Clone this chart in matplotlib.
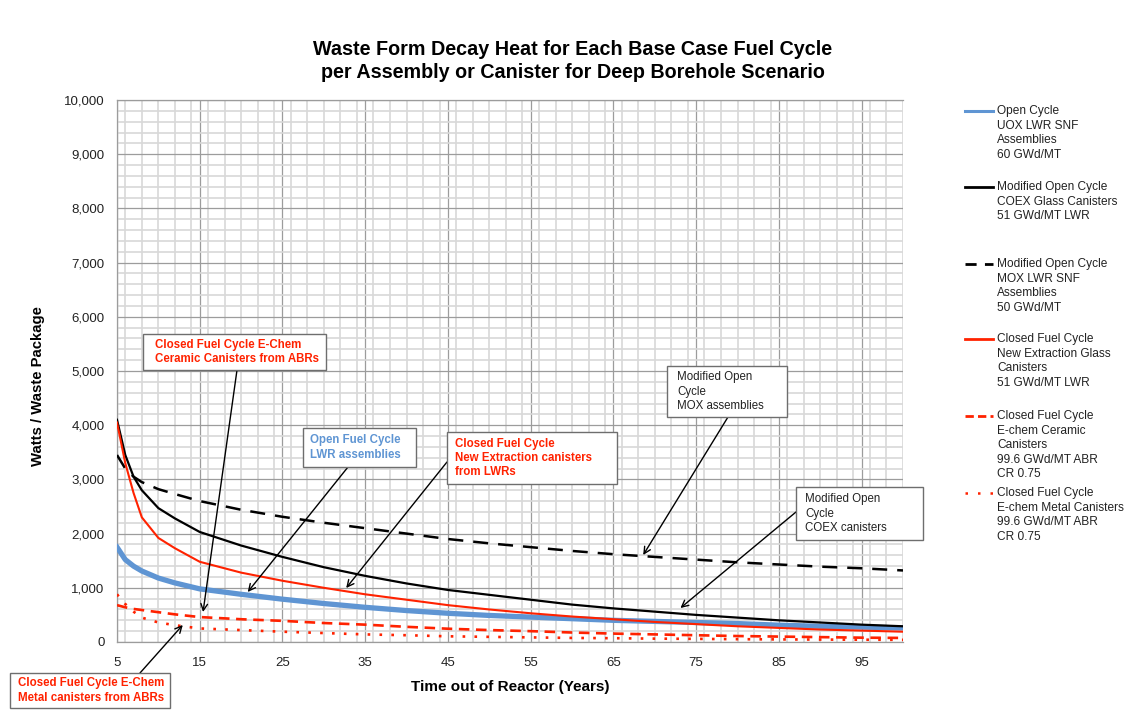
import numpy as np
import matplotlib
matplotlib.use("Agg")
import matplotlib.pyplot as plt
from matplotlib.lines import Line2D
from matplotlib.patches import Rectangle
from matplotlib.ticker import MultipleLocator, FuncFormatter

plt.rcParams['font.family'] = ['Liberation Sans', 'DejaVu Sans']

# years out of reactor
years = [5, 6, 7, 8, 10, 12, 15, 20, 25, 30, 35, 40, 45, 50, 55, 60, 65, 70,
         75, 80, 85, 90, 95, 100]

# watts per waste package
uox_lwr = [1750, 1520, 1400, 1310, 1180, 1090, 980, 880, 790, 710, 640, 580,
           530, 490, 460, 430, 400, 380, 360, 340, 310, 290, 275, 260]
coex_glass = [4100, 3450, 3050, 2800, 2470, 2280, 2030, 1780, 1570, 1380, 1220,
              1080, 960, 870, 780, 690, 620, 560, 500, 450, 400, 360, 320, 290]
mox_lwr = [3450, 3200, 3050, 2950, 2820, 2730, 2600, 2440, 2310, 2200, 2100,
           2000, 1900, 1820, 1750, 1680, 1620, 1570, 1520, 1470, 1430, 1390,
           1360, 1320]
new_extraction = [4050, 3300, 2750, 2300, 1920, 1730, 1480, 1280, 1130, 1000,
                  880, 780, 680, 600, 530, 470, 420, 370, 330, 290, 260, 230,
                  210, 190]
echem_ceramic = [680, 640, 610, 590, 550, 510, 460, 420, 390, 350, 320, 280,
                 245, 220, 200, 175, 155, 140, 125, 110, 100, 90, 80, 75]
echem_metal = [880, 700, 560, 450, 360, 310, 250, 220, 190, 165, 140, 125,
               105, 95, 85, 75, 70, 62, 58, 52, 48, 45, 42, 40]

legend_labels = [
    ["Open Cycle", "UOX LWR SNF", "Assemblies", "60 GWd/MT"],
    ["Modified Open Cycle", "COEX Glass Canisters", "51 GWd/MT LWR"],
    ["Modified Open Cycle", "MOX LWR SNF", "Assemblies", "50 GWd/MT"],
    ["Closed Fuel Cycle", "New Extraction Glass", "Canisters", "51 GWd/MT LWR"],
    ["Closed Fuel Cycle", "E-chem Ceramic", "Canisters", "99.6 GWd/MT ABR",
     "CR 0.75"],
    ["Closed Fuel Cycle", "E-chem Metal Canisters", "99.6 GWd/MT ABR",
     "CR 0.75"],
]

BLUE = '#5f95d3'
RED = '#ff2200'
W, H = 1135, 710

fig = plt.figure(figsize=(W / 100, H / 100), dpi=100)
ax = fig.add_axes([117 / W, 1 - 642 / H, (903 - 117) / W, (642 - 100) / H])


def fx(px):
    return px / W


def fy(py):
    return 1 - py / H


styles = [
    dict(color=BLUE, lw=3.8, ls='-'),
    dict(color='black', lw=1.6, ls='-'),
    dict(color='black', lw=1.8, ls=(0, (6, 4))),
    dict(color=RED, lw=1.5, ls='-'),
    dict(color=RED, lw=1.9, ls=(0, (4, 2.5))),
    dict(color=RED, lw=1.9, ls=(0, (1, 3.5))),
]
series = [uox_lwr, coex_glass, mox_lwr, new_extraction, echem_ceramic,
          echem_metal]
for vals, st in zip(series, styles):
    ax.plot(years, vals, zorder=3, **st)

ax.set_xlim(5, 100)
ax.set_ylim(0, 10000)
ax.set_xticks(np.arange(5, 100, 10))
ax.xaxis.set_minor_locator(MultipleLocator(2))
ax.yaxis.set_major_locator(MultipleLocator(1000))
ax.yaxis.set_minor_locator(MultipleLocator(200))
ax.yaxis.set_major_formatter(FuncFormatter(lambda v, p: f"{int(v):,}"))
ax.grid(which='minor', color='#d8d8d8', lw=1.2)
ax.grid(which='major', color='#9c9c9c', lw=0.9)
ax.set_axisbelow(True)
ax.tick_params(which='both', length=0, labelsize=9.5, colors='#222222')
ax.tick_params(axis='x', pad=11)
ax.tick_params(axis='y', pad=9)
for s in ['left', 'top', 'bottom']:
    ax.spines[s].set_color('#9c9c9c')
    ax.spines[s].set_linewidth(0.9)
ax.spines['right'].set_visible(False)

ax.set_xlabel("Time out of Reactor (Years)", fontsize=11, fontweight='bold',
              labelpad=8)
fig.text(fx(38), fy(386), "Watts / Waste Package", rotation=90, fontsize=10.7,
         fontweight='bold', ha='center', va='center')
fig.text(fx(573), fy(61), "Waste Form Decay Heat for Each Base Case Fuel Cycle\n"
         "per Assembly or Canister for Deep Borehole Scenario",
         fontsize=14.2, fontweight='bold', ha='center', va='center',
         linespacing=1.25)


def callout(box, text_x, lines, color, bold, start, tip):
    x0, y0, x1, y1 = box
    fig.patches.append(Rectangle((fx(x0), fy(y1)), (x1 - x0) / W,
                                 (y1 - y0) / H, transform=fig.transFigure,
                                 facecolor='white', edgecolor='#6e6e6e',
                                 lw=1.0, zorder=5))
    fig.text(fx(text_x), fy((y0 + y1) / 2), lines, color=color, fontsize=8.3,
             fontweight='bold' if bold else 'normal', ha='left', va='center',
             linespacing=1.25, zorder=6)
    ax.annotate('', xy=tip, xycoords='data', xytext=(fx(start[0]), fy(start[1])),
                textcoords='figure fraction', annotation_clip=False,
                arrowprops=dict(arrowstyle='->', color='black', lw=1.0,
                                mutation_scale=12, shrinkA=0, shrinkB=0),
                zorder=7)


callout((143, 334, 326, 370), 155,
        "Closed Fuel Cycle E-Chem\nCeramic Canisters from ABRs", RED, True,
        (237, 370), (15.4, 553))
callout((303, 428, 416, 467), 310, "Open Fuel Cycle\nLWR assemblies", BLUE,
        True, (348, 467), (20.8, 922))
callout((447, 432, 617, 484), 455,
        "Closed Fuel Cycle\nNew Extraction canisters\nfrom LWRs", RED, True,
        (447, 462), (32.7, 996))
callout((667, 366, 787, 417), 677, "Modified Open\nCycle\nMOX assemblies",
        '#222222', False, (728, 417), (68.6, 1605))
callout((796, 487, 923, 540), 805, "Modified Open\nCycle\nCOEX canisters",
        '#222222', False, (796, 512), (73.1, 627))
callout((10, 673, 170, 708), 18,
        "Closed Fuel Cycle E-Chem\nMetal canisters from ABRs", RED, True,
        (140, 673), (12.95, 314))

# legend drawn by hand at the right of the plot
legend_y = [111, 187, 264, 339, 416, 493]
legend_styles = [
    dict(color=BLUE, lw=2.2, ls='-'),
    dict(color='black', lw=2.0, ls='-'),
    dict(color='black', lw=2.0, ls=(0, (4, 3))),
    dict(color=RED, lw=2.0, ls='-'),
    dict(color=RED, lw=2.0, ls=(0, (3, 1.5))),
    dict(color=RED, lw=1.8, ls=(0, (1, 4))),
]
for y0, st, lab in zip(legend_y, legend_styles, legend_labels):
    fig.lines.append(Line2D([fx(965), fx(993)], [fy(y0), fy(y0)],
                            transform=fig.transFigure, **st))
    for i, line in enumerate(lab):
        fig.text(fx(997), fy(y0 + i * 14.6), line, fontsize=8.6,
                 color='#222222', ha='left', va='center')

fig.savefig("out.png", dpi=100, facecolor='white')
